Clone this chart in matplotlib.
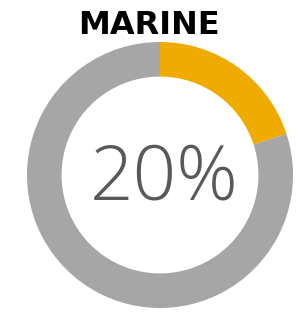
import matplotlib
matplotlib.use("Agg")
import matplotlib.pyplot as plt

# --- datos ---
title = "MARINE"
labels = ["Marine", "Resto"]
values = [20, 80]
colors = ["#F0AB00", "#A6A6A6"]
center_label = f"{values[0]}%"

fig = plt.figure(figsize=(3.0, 3.18), dpi=100)
ax = fig.add_axes([0, 0, 1, 1])
ax.set_xlim(0, 300)
ax.set_ylim(318, 0)
ax.axis("off")

# donut: centro (160,175), radio exterior 133 px
ax_d = fig.add_axes([(160 - 133) / 300, (318 - 175 - 133) / 318, 266 / 300, 266 / 318])
ax_d.pie(values, colors=colors, startangle=90, counterclock=False,
         wedgeprops=dict(width=0.26, edgecolor="none"))
ax_d.set_xlim(-1, 1)
ax_d.set_ylim(-1, 1)
ax_d.set_aspect("equal")
ax_d.axis("off")

ax.text(164, 180, center_label, ha="center", va="center", fontsize=55,
        color="#595959", family="Open Sans", fontweight="light")
ax.text(149, 25, title, ha="center", va="center", fontsize=23,
        color="black", fontweight="heavy", family="DejaVu Sans")

fig.savefig("out.png", dpi=100)
